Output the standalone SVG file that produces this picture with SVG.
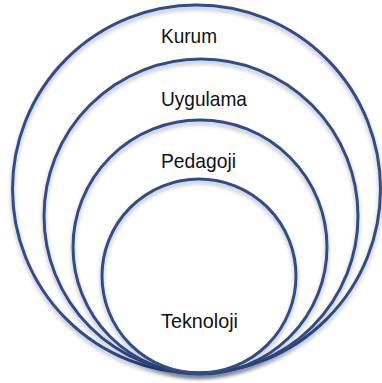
<svg xmlns="http://www.w3.org/2000/svg" width="382" height="383" viewBox="0 0 382 383">
  <defs>
    <filter id="soft-shadow" x="-10%" y="-10%" width="120%" height="125%">
      <feGaussianBlur in="SourceAlpha" stdDeviation="2"/>
      <feOffset dy="3" result="blur"/>
      <feComponentTransfer><feFuncA type="linear" slope="0.3"/></feComponentTransfer>
      <feMerge><feMergeNode/><feMergeNode in="SourceGraphic"/></feMerge>
    </filter>
  </defs>
  <style>
    .ring { fill: none; stroke: #2f4d8c; stroke-width: 3; filter: url(#soft-shadow); }
    .label { font-family: "Liberation Sans", Arial, sans-serif; font-size: 21px; fill: #111; }
  </style>
  <rect width="382" height="383" fill="#ffffff"/>
  <!-- nested layers, all touching at the bottom -->
  <g id="kurum">
    <circle class="ring" cx="196.5" cy="189" r="184"/>
    <text class="label" x="161" y="42.5" textLength="56" lengthAdjust="spacingAndGlyphs">Kurum</text>
  </g>
  <g id="uygulama">
    <circle class="ring" cx="201" cy="216" r="157"/>
    <text class="label" x="161" y="106" textLength="86" lengthAdjust="spacingAndGlyphs">Uygulama</text>
  </g>
  <g id="pedagoji">
    <circle class="ring" cx="200" cy="247" r="127"/>
    <text class="label" x="161" y="168" textLength="75" lengthAdjust="spacingAndGlyphs">Pedagoji</text>
  </g>
  <g id="teknoloji">
    <circle class="ring" cx="199" cy="276" r="97"/>
    <text class="label" x="161" y="327.5" textLength="77" lengthAdjust="spacingAndGlyphs">Teknoloji</text>
  </g>
  <g id="connectors"/>
</svg>
